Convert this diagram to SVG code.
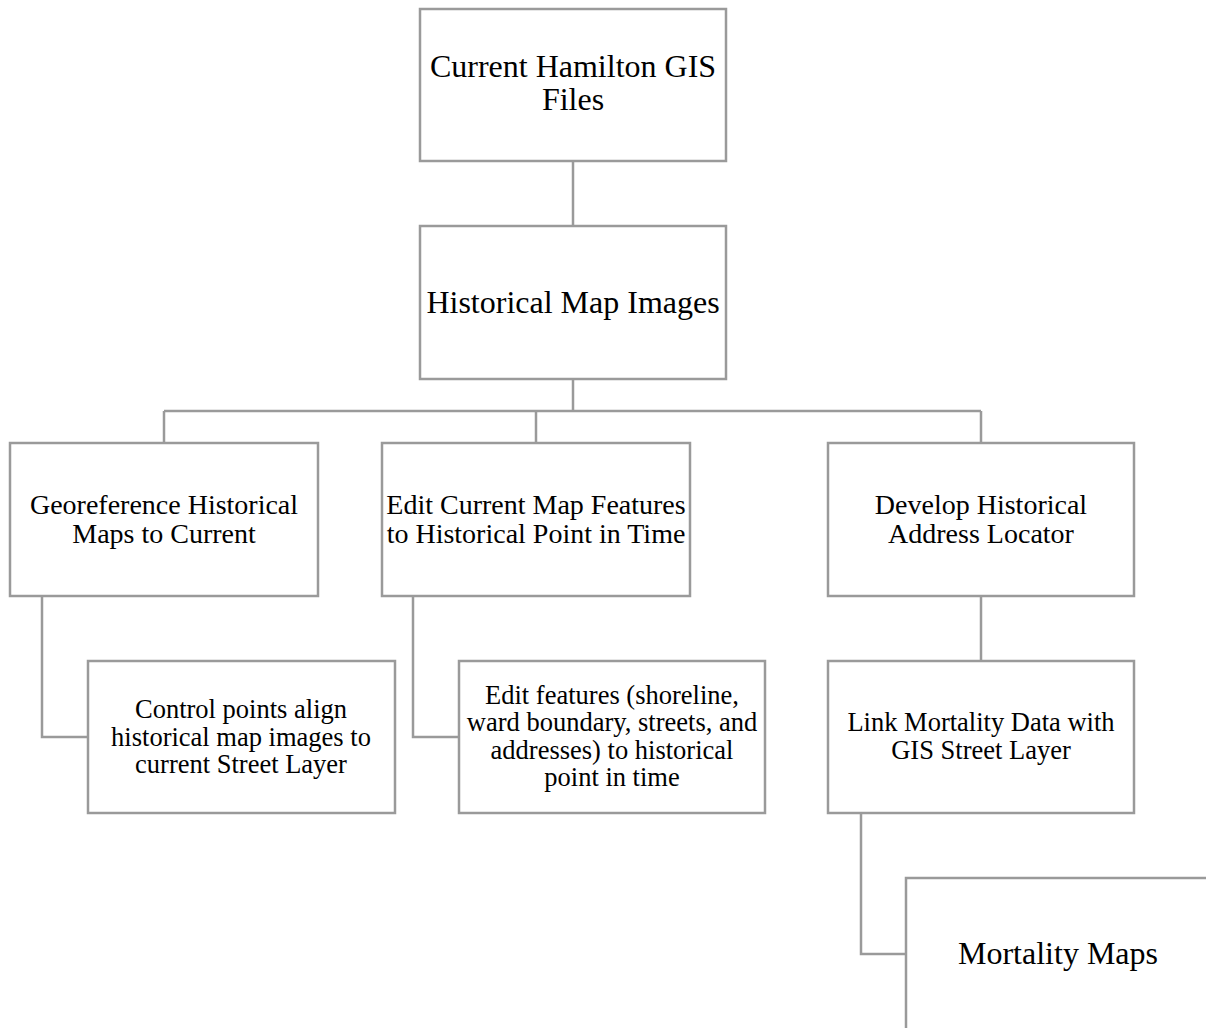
<svg xmlns="http://www.w3.org/2000/svg" width="1206" height="1028" viewBox="0 0 1206 1028">
<style>
.box{fill:#fff;stroke:#9a9a9a;stroke-width:2.5}
.con{fill:none;stroke:#9a9a9a;stroke-width:2.5}
text{font-family:"Liberation Serif","Times New Roman",serif;fill:#000;text-anchor:middle}
.t1{font-size:32px}
.t2{font-size:28px}
.t3{font-size:26.5px}
</style>
<rect width="1206" height="1028" fill="#fff"/>
<g id="connectors">
<path class="con" d="M573 161V226"/>
<path class="con" d="M573 379V411M164 411H981M164 411V443M536 411V443M981 411V443"/>
<path class="con" d="M42 596V737H88"/>
<path class="con" d="M413 596V737H459"/>
<path class="con" d="M981 596V661"/>
<path class="con" d="M861 813V954H906"/>
</g>
<g id="n1"><rect class="box" x="420" y="9" width="306" height="152"/><text class="t1" x="573" y="77">Current Hamilton GIS</text><text class="t1" x="573" y="110">Files</text></g>
<g id="n2"><rect class="box" x="420" y="226" width="306" height="153"/><text class="t1" x="573" y="313">Historical Map Images</text></g>
<g id="n3"><rect class="box" x="10" y="443" width="308" height="153"/><text class="t2" x="164" y="514">Georeference Historical</text><text class="t2" x="164" y="543">Maps to Current</text></g>
<g id="n4"><rect class="box" x="382" y="443" width="308" height="153"/><text class="t2" x="536" y="514">Edit Current Map Features</text><text class="t2" x="536" y="543">to Historical Point in Time</text></g>
<g id="n5"><rect class="box" x="828" y="443" width="306" height="153"/><text class="t2" x="981" y="514">Develop Historical</text><text class="t2" x="981" y="543">Address Locator</text></g>
<g id="n6"><rect class="box" x="88" y="661" width="307" height="152"/><text class="t3" x="241" y="718">Control points align</text><text class="t3" x="241" y="746">historical map images to</text><text class="t3" x="241" y="773">current Street Layer</text></g>
<g id="n7"><rect class="box" x="459" y="661" width="306" height="152"/><text class="t3" x="612" y="704">Edit features (shoreline,</text><text class="t3" x="612" y="731">ward boundary, streets, and</text><text class="t3" x="612" y="759">addresses) to historical</text><text class="t3" x="612" y="786">point in time</text></g>
<g id="n8"><rect class="box" x="828" y="661" width="306" height="152"/><text class="t3" x="981" y="731">Link Mortality Data with</text><text class="t3" x="981" y="759">GIS Street Layer</text></g>
<g id="n9"><rect class="box" x="906" y="878" width="306" height="152"/><text class="t1" x="1058" y="964">Mortality Maps</text></g>
</svg>
